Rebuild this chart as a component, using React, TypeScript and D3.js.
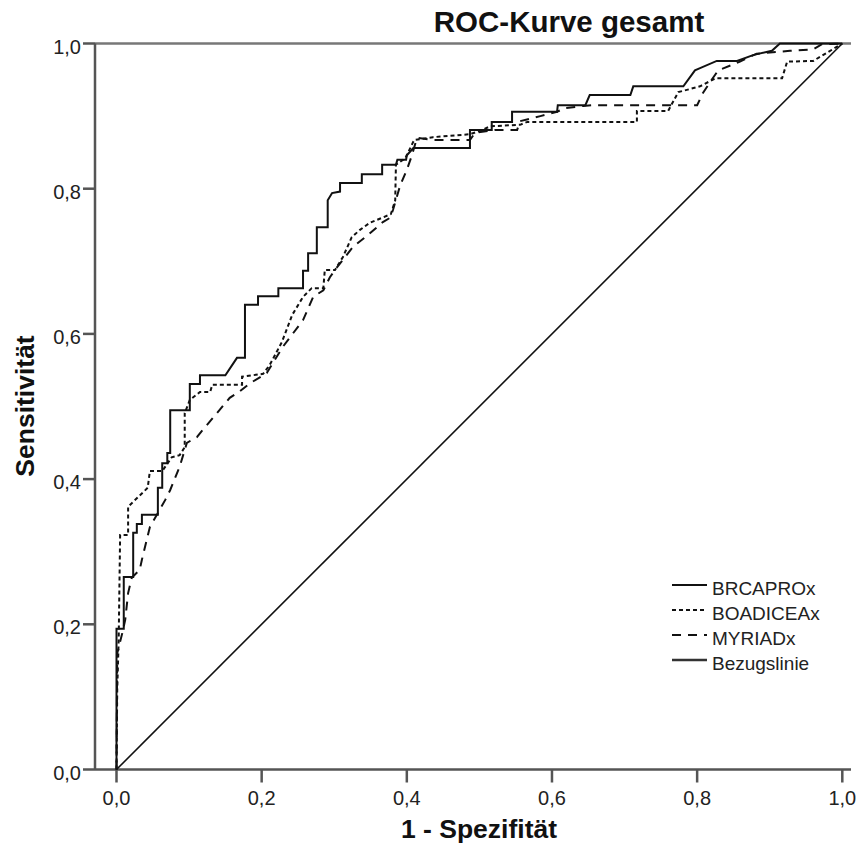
import React from "react";
import * as d3 from "d3";

const W = 856;
const H = 854;

const title = "ROC-Kurve gesamt";
const xLabel = "1 - Spezifität";
const yLabel = "Sensitivität";
const ticks = [0, 0.2, 0.4, 0.6, 0.8, 1.0];
const tickLabels = ["0,0", "0,2", "0,4", "0,6", "0,8", "1,0"];

const seriesNames = ["BRCAPROx", "BOADICEAx", "MYRIADx", "Bezugslinie"];

// [1 - specificity, sensitivity]
const brcapro: [number, number][] = [
  [0, 0], [0, 0.194], [0.01, 0.194], [0.01, 0.265], [0.023, 0.265], [0.023, 0.326],
  [0.028, 0.326], [0.028, 0.338], [0.035, 0.338], [0.035, 0.351], [0.057, 0.351],
  [0.057, 0.388], [0.063, 0.388], [0.063, 0.422], [0.07, 0.422], [0.07, 0.436],
  [0.074, 0.436], [0.074, 0.495], [0.101, 0.495], [0.101, 0.531], [0.115, 0.531],
  [0.115, 0.543], [0.15, 0.543], [0.166, 0.567], [0.177, 0.567], [0.177, 0.64],
  [0.195, 0.64], [0.195, 0.652], [0.223, 0.652], [0.223, 0.663], [0.257, 0.663],
  [0.257, 0.687], [0.264, 0.687], [0.264, 0.711], [0.276, 0.711], [0.276, 0.747],
  [0.291, 0.747], [0.291, 0.784], [0.297, 0.794], [0.308, 0.796], [0.308, 0.808],
  [0.338, 0.808], [0.338, 0.82], [0.366, 0.82], [0.366, 0.833], [0.385, 0.833],
  [0.387, 0.84], [0.399, 0.84], [0.4, 0.846], [0.409, 0.856], [0.487, 0.856],
  [0.487, 0.881], [0.517, 0.881], [0.517, 0.892], [0.545, 0.892], [0.545, 0.906],
  [0.607, 0.906], [0.608, 0.915], [0.646, 0.915], [0.652, 0.929], [0.708, 0.929],
  [0.712, 0.941], [0.781, 0.941], [0.797, 0.963], [0.804, 0.966], [0.827, 0.976],
  [0.855, 0.976], [0.877, 0.984], [0.903, 0.99], [0.914, 1], [1, 1],
];

const boadicea: [number, number][] = [
  [0, 0], [0.001, 0.11], [0.003, 0.178], [0.005, 0.323], [0.016, 0.323], [0.016, 0.362],
  [0.043, 0.388], [0.046, 0.411], [0.063, 0.411], [0.076, 0.43], [0.087, 0.433],
  [0.094, 0.444], [0.094, 0.491], [0.101, 0.509], [0.115, 0.52], [0.129, 0.52],
  [0.132, 0.53], [0.173, 0.53], [0.173, 0.541], [0.202, 0.545], [0.211, 0.557],
  [0.228, 0.589], [0.242, 0.626], [0.257, 0.651], [0.269, 0.663], [0.285, 0.663],
  [0.287, 0.688], [0.301, 0.688], [0.312, 0.706], [0.324, 0.733], [0.335, 0.743],
  [0.349, 0.753], [0.366, 0.76], [0.378, 0.765], [0.384, 0.784], [0.385, 0.833],
  [0.398, 0.842], [0.41, 0.867], [0.436, 0.871], [0.487, 0.875], [0.504, 0.881],
  [0.515, 0.886], [0.556, 0.888], [0.566, 0.892], [0.717, 0.892], [0.717, 0.907],
  [0.76, 0.907], [0.774, 0.933], [0.804, 0.941], [0.825, 0.952], [0.917, 0.952],
  [0.924, 0.975], [0.96, 0.976], [1, 1],
];

const myriad: [number, number][] = [
  [0, 0], [0.001, 0.16], [0.008, 0.188], [0.012, 0.206], [0.016, 0.243], [0.021, 0.264],
  [0.032, 0.275], [0.035, 0.289], [0.046, 0.334], [0.067, 0.371], [0.074, 0.385],
  [0.087, 0.417], [0.097, 0.45], [0.111, 0.458], [0.119, 0.468], [0.136, 0.488],
  [0.156, 0.512], [0.17, 0.521], [0.184, 0.532], [0.207, 0.546], [0.229, 0.582],
  [0.257, 0.619], [0.271, 0.651], [0.285, 0.66], [0.294, 0.678], [0.304, 0.692],
  [0.326, 0.72], [0.345, 0.735], [0.367, 0.754], [0.377, 0.76], [0.381, 0.771],
  [0.391, 0.805], [0.4, 0.826], [0.407, 0.846], [0.414, 0.87], [0.436, 0.867],
  [0.487, 0.867], [0.494, 0.877], [0.521, 0.881], [0.552, 0.881], [0.556, 0.893],
  [0.584, 0.9], [0.607, 0.906], [0.618, 0.911], [0.643, 0.914], [0.657, 0.915],
  [0.8, 0.915], [0.808, 0.932], [0.82, 0.95], [0.829, 0.963], [0.859, 0.975],
  [0.882, 0.986], [0.928, 0.99], [0.96, 0.992], [0.972, 0.999], [1, 1],
];

const reference: [number, number][] = [[0, 0], [1, 1]];

const FONT = "'Liberation Sans', Arial, Helvetica, sans-serif";

export default function App() {
  const x = d3.scaleLinear().domain([0, 1]).range([116.5, 842.3]);
  const y = d3.scaleLinear().domain([0, 1]).range([769.5, 43.5]);
  const line = d3
    .line<[number, number]>()
    .x((d) => x(d[0]))
    .y((d) => y(d[1]));

  const axisColor = "#555";
  const axisLeft = 95;
  const rightEnd = 851;

  const series = [
    { name: seriesNames[0], data: brcapro, dash: undefined as string | undefined, width: 2 },
    { name: seriesNames[1], data: boadicea, dash: "4,3", width: 2 },
    { name: seriesNames[2], data: myriad, dash: "9,7", width: 2 },
  ];

  const legendDash = [undefined, "4,3", "9,7", undefined];

  return (
    <svg
      width={W}
      height={H}
      style={{ position: "absolute", left: 0, top: 0, background: "#fff" }}
      fontFamily={FONT}
    >
      <rect x={0} y={0} width={W} height={H} fill="#fff" />
      {/* title */}
      <text x={569} y={31.5} textAnchor="middle" fontSize={29.5} fontWeight="bold" fill="#111">
        {title}
      </text>

      {/* top frame line */}
      <line x1={axisLeft} x2={rightEnd} y1={y(1)} y2={y(1)} stroke="#777" strokeWidth={2.5} />
      {/* y axis */}
      <line x1={axisLeft} x2={axisLeft} y1={y(1)} y2={y(0)} stroke={axisColor} strokeWidth={2.5} />
      {/* x axis */}
      <line x1={axisLeft} x2={rightEnd} y1={y(0)} y2={y(0)} stroke={axisColor} strokeWidth={2.5} />

      {/* y ticks */}
      {ticks.map((t, i) => (
        <g key={"yt" + i}>
          <line x1={83} x2={axisLeft} y1={y(t)} y2={y(t)} stroke={axisColor} strokeWidth={2.5} />
          <text x={81} y={y(t) + 10} textAnchor="end" fontSize={20} fill="#222">
            {tickLabels[i]}
          </text>
        </g>
      ))}
      {/* x ticks */}
      {ticks.map((t, i) => (
        <g key={"xt" + i}>
          <line x1={x(t)} x2={x(t)} y1={y(0)} y2={y(0) + 13} stroke={axisColor} strokeWidth={2.5} />
          <text x={x(t)} y={805} textAnchor="middle" fontSize={20} fill="#222">
            {tickLabels[i]}
          </text>
        </g>
      ))}

      {/* axis titles */}
      <text x={479} y={838} textAnchor="middle" fontSize={26.5} fontWeight="bold" fill="#111">
        {xLabel}
      </text>
      <text
        transform={`translate(34,406) rotate(-90)`}
        textAnchor="middle"
        fontSize={26.5}
        fontWeight="bold"
        fill="#111"
      >
        {yLabel}
      </text>

      {/* reference line */}
      <path d={line(reference) || ""} fill="none" stroke="#111" strokeWidth={1.6} />

      {/* curves */}
      {series.map((s) => (
        <path
          key={s.name}
          d={line(s.data) || ""}
          fill="none"
          stroke="#111"
          strokeWidth={s.width}
          strokeDasharray={s.dash}
          strokeLinejoin="miter"
        />
      ))}

      {/* legend */}
      {seriesNames.map((n, i) => {
        const ly = 585 + i * 25;
        return (
          <g key={"lg" + i}>
            <line
              x1={672}
              x2={707}
              y1={ly}
              y2={ly}
              stroke={i === 3 ? "#333" : "#111"}
              strokeWidth={i === 3 ? 2.5 : 2}
              strokeDasharray={legendDash[i]}
            />
            <text x={712} y={ly + 9.5} fontSize={19} fill="#222">
              {n}
            </text>
          </g>
        );
      })}
    </svg>
  );
}
